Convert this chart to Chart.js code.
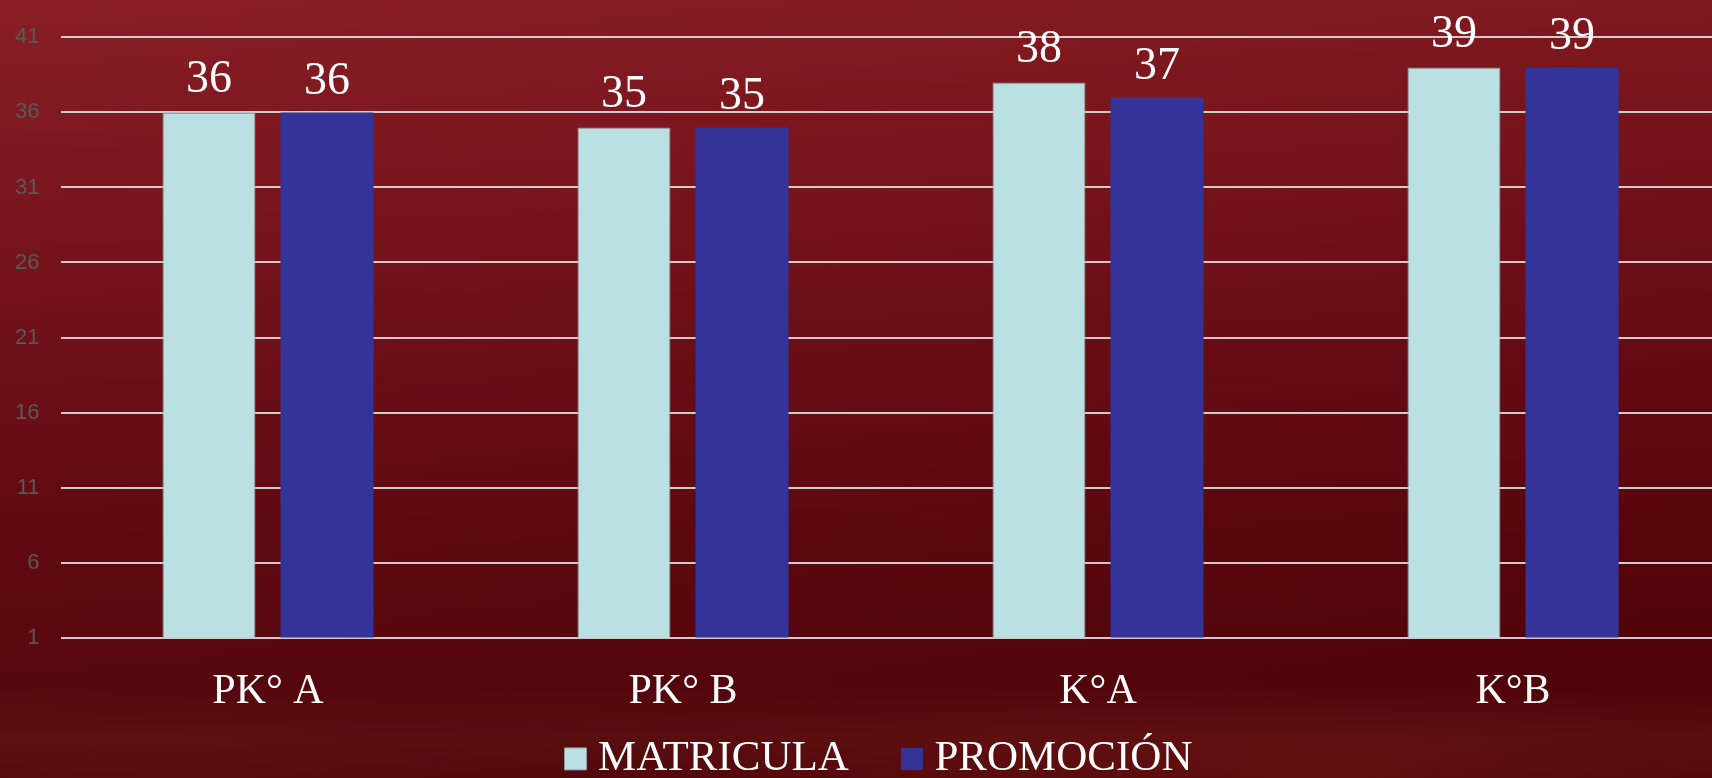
<!DOCTYPE html>
<html>
<head>
<meta charset="utf-8">
<script src="https://cdn.jsdelivr.net/npm/chart.js@4.4.1/dist/chart.umd.min.js"></script>
<style>
  html, body { margin: 0; padding: 0; width: 1712px; height: 778px; overflow: hidden; }
  body {
    background:
      radial-gradient(ellipse 45% 12% at 78% 100%, rgba(150,40,30,0.28), rgba(150,40,30,0) 100%),
      radial-gradient(ellipse 30% 8% at 10% 100%, rgba(130,30,25,0.18), rgba(130,30,25,0) 100%),
      linear-gradient(90deg, rgba(255,255,255,0.02), rgba(0,0,0,0.06)),
      linear-gradient(180deg, #871a21 0%, #7b131b 20%, #6b0b13 45%, #5c050c 70%, #54030a 88%, #580a0c 95%, #4f0408 100%);
  }
  #wrap { position: relative; width: 1721px; height: 778px; }
  canvas { display: block; }
</style>
</head>
<body>
<div id="wrap"><canvas id="c" width="1721" height="778"></canvas></div>
<script>
// ---- data ----
const categories = ['PK° A', 'PK° B', 'K°A', 'K°B'];
const matricula = [36, 35, 38, 39];
const promocion = [36, 35, 37, 39];
const seriesNames = ['MATRICULA', 'PROMOCIÓN'];
const yMin = 1;
const yMax = 41;
const yStep = 5;

// ---- plugins ----
const valueLabels = {
  id: 'valueLabels',
  afterDatasetsDraw(chart) {
    const ctx = chart.ctx;
    ctx.save();
    ctx.font = '46px "Liberation Serif", "Times New Roman", serif';
    ctx.fillStyle = '#ffffff';
    ctx.textAlign = 'center';
    ctx.textBaseline = 'alphabetic';
    chart.data.datasets.forEach((ds, i) => {
      const meta = chart.getDatasetMeta(i);
      const off = i === 0 ? 20 : 18;
      meta.data.forEach((bar, j) => {
        ctx.fillText(String(ds.data[j]), bar.x, bar.y - off);
      });
    });
    ctx.restore();
  }
};

const legendPlace = {
  id: 'legendPlace',
  afterLayout(chart) {
    const lg = chart.legend;
    if (!lg) return;
    const dx = 23;
    lg.left = 0 + dx;
    lg.right = chart.width + dx;
    lg.top = 675.4;
    lg.bottom = 778;
    lg.height = lg.bottom - lg.top;
    lg.width = lg.right - lg.left;
  }
};

const TARGET_BOTTOM = 637.6;

const chart = new Chart(document.getElementById('c'), {
  type: 'bar',
  data: {
    labels: categories,
    datasets: [
      {
        label: seriesNames[0],
        data: matricula,
        backgroundColor: '#bbe0e3',
        borderColor: '#8e9ea0',
        borderWidth: 1,
        categoryPercentage: 0.569,
        barPercentage: 0.788
      },
      {
        label: seriesNames[1],
        data: promocion,
        backgroundColor: '#333399',
        borderWidth: 0,
        categoryPercentage: 0.569,
        barPercentage: 0.788
      }
    ]
  },
  options: {
    responsive: false,
    animation: false,
    devicePixelRatio: 1,
    layout: { padding: { top: 37.4, right: 0.5, left: 0, bottom: 0 } },
    scales: {
      x: {
        grid: { display: false, drawTicks: false },
        border: { display: false },
        ticks: {
          color: '#ffffff',
          padding: 29,
          font: { family: '"Liberation Serif", "Times New Roman", serif', size: 42, lineHeight: 1.2 }
        }
      },
      y: {
        min: yMin,
        max: yMax,
        grid: { color: 'rgba(222,222,222,0.9)', lineWidth: 2, drawTicks: false },
        border: { display: false },
        ticks: {
          stepSize: yStep,
          color: '#595959',
          padding: 21,
          font: { family: '"Liberation Sans", Arial, sans-serif', size: 22 }
        },
        afterFit(scale) { scale.width = 60.5; }
      }
    },
    plugins: {
      tooltip: { enabled: false },
      legend: {
        position: 'bottom',
        maxHeight: 65,
        labels: {
          usePointStyle: true,
          pointStyle: 'rect',
          boxWidth: 2,
          boxHeight: 22,
          padding: 62,
          color: '#ffffff',
          font: { family: '"Liberation Serif", "Times New Roman", serif', size: 43 }
        }
      }
    }
  },
  plugins: [valueLabels, legendPlace]
});

// keep the plot area bottom where the reference has it
const diff = chart.chartArea.bottom - TARGET_BOTTOM;
if (Math.abs(diff) > 0.3) {
  chart.options.layout.padding.bottom = diff;
  chart.update();
}
</script>
</body>
</html>
